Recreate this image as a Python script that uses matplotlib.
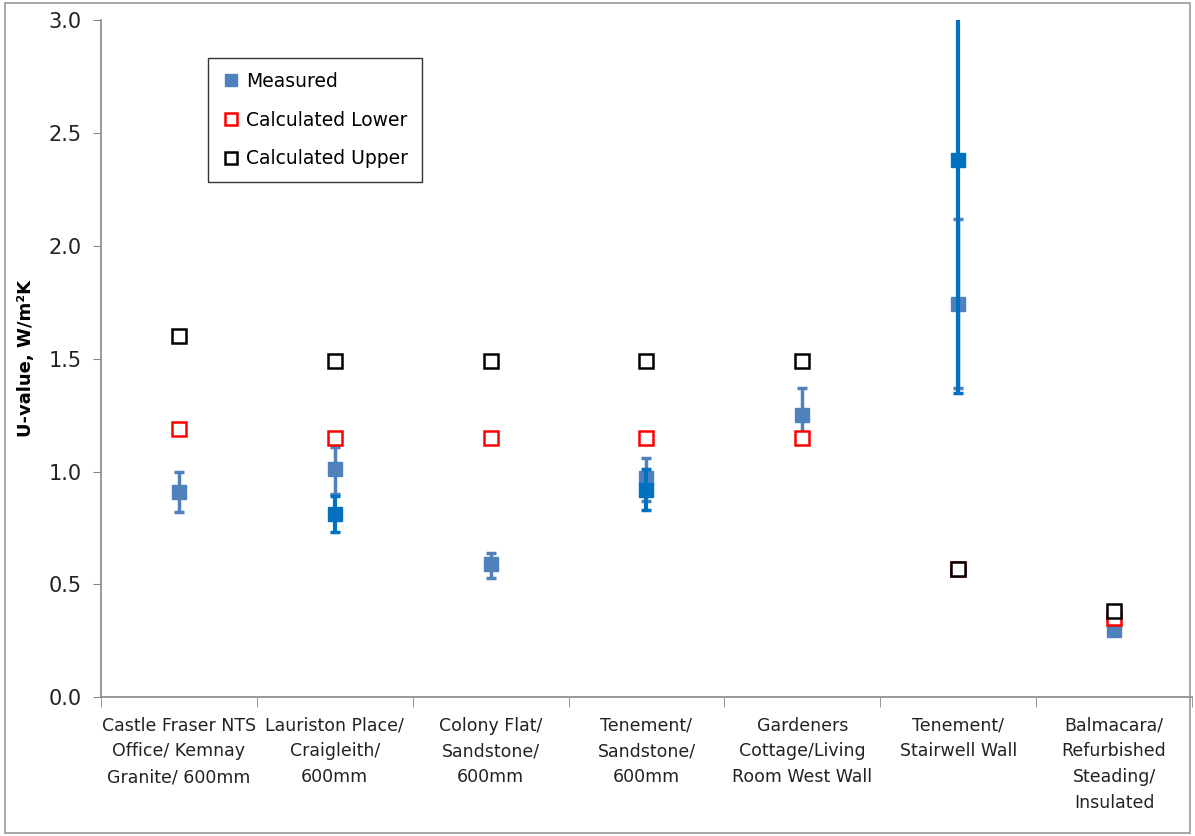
import numpy as np
import matplotlib
matplotlib.use("Agg")
import matplotlib.pyplot as plt
from matplotlib.patches import Rectangle

categories = [
    "Castle Fraser NTS\nOffice/ Kemnay\nGranite/ 600mm",
    "Lauriston Place/\nCraigleith/\n600mm",
    "Colony Flat/\nSandstone/\n600mm",
    "Tenement/\nSandstone/\n600mm",
    "Gardeners\nCottage/Living\nRoom West Wall",
    "Tenement/\nStairwell Wall",
    "Balmacara/\nRefurbished\nSteading/\nInsulated",
]

# measured series 1 (lighter blue)
meas1 = [0.91, 1.01, 0.59, 0.97, 1.25, 1.74, 0.30]
meas1_lo = [0.82, 0.90, 0.53, 0.87, 1.13, 1.37, 0.28]
meas1_hi = [1.00, 1.11, 0.64, 1.06, 1.37, 2.12, 0.32]

# measured series 2 (darker blue), only some walls
meas2_idx = [1, 3, 5]
meas2 = [0.81, 0.92, 2.38]
meas2_lo = [0.73, 0.83, 1.35]
meas2_hi = [0.89, 1.01, 3.41]

calc_lower = [1.19, 1.15, 1.15, 1.15, 1.15, 0.57, 0.35]
calc_upper = [1.60, 1.49, 1.49, 1.49, 1.49, 0.57, 0.38]

light = "#4F81BD"
dark = "#0070C0"

fig = plt.figure(figsize=(11.95, 8.36), dpi=100)
ax = fig.add_axes([0.0845, 0.166, 0.913, 0.810])

x = np.arange(len(categories))

m1 = np.array(meas1)
ax.errorbar(x, m1, yerr=[m1 - np.array(meas1_lo), np.array(meas1_hi) - m1],
            fmt="s", color=light, ecolor=light, markersize=10, elinewidth=2.5,
            capsize=3.5, capthick=2.5, zorder=3)

m2 = np.array(meas2)
x2 = np.array(meas2_idx)
ax.errorbar(x2, m2, yerr=[m2 - np.array(meas2_lo), np.array(meas2_hi) - m2],
            fmt="s", color=dark, ecolor=dark, markersize=10, elinewidth=3,
            capsize=3.5, capthick=2.5, zorder=4)

ax.plot(x, calc_lower, "s", markerfacecolor="white", markeredgecolor="red",
        markersize=9.5, markeredgewidth=1.8, linestyle="none", zorder=5)
ax.plot(x, calc_upper, "s", markerfacecolor="white", markeredgecolor="black",
        markersize=9.5, markeredgewidth=1.8, linestyle="none", zorder=6)

ax.set_xlim(-0.5, len(categories) - 0.5)
ax.set_ylim(0, 3.0)
ax.set_yticks(np.arange(0, 3.01, 0.5))
ax.set_yticklabels(["%.1f" % v for v in np.arange(0, 3.01, 0.5)], fontsize=15, color="#222222")
ax.tick_params(axis="y", direction="out", length=6, color="#888888", pad=8)

ax.set_xticks(x)
ax.set_xticklabels(categories, fontsize=12.5, color="#222222", va="top", linespacing=1.55)
ax.tick_params(axis="x", length=0, pad=14)
ax.set_xticks(np.arange(-0.5, len(categories)), minor=True)
ax.tick_params(axis="x", which="minor", direction="out", length=7, color="#888888")

for s in ["top", "right"]:
    ax.spines[s].set_visible(False)
for s in ["left", "bottom"]:
    ax.spines[s].set_color("#888888")
    ax.spines[s].set_linewidth(1.2)

ax.set_ylabel("U-value, W/m²K", fontsize=13, fontweight="bold", labelpad=10)

h1 = ax.plot([], [], "s", color=light, markersize=9)[0]
h2 = ax.plot([], [], "s", markerfacecolor="white", markeredgecolor="red", markersize=9, markeredgewidth=1.8)[0]
h3 = ax.plot([], [], "s", markerfacecolor="white", markeredgecolor="black", markersize=9, markeredgewidth=1.8)[0]
leg = ax.legend([h1, h2, h3], ["Measured", "Calculated Lower", "Calculated Upper"],
                loc="upper left", bbox_to_anchor=(0.098, 0.944), fontsize=13.5,
                frameon=True, fancybox=False, edgecolor="black", handletextpad=0.3,
                handlelength=1.0, borderpad=0.75, labelspacing=1.05,
                borderaxespad=0)
leg.get_frame().set_linewidth(1.0)

fig.patches.append(Rectangle((0.004, 0.004), 0.992, 0.992, transform=fig.transFigure,
                             fill=False, edgecolor="#999999", linewidth=1.2))

fig.savefig("out.png", dpi=100)
